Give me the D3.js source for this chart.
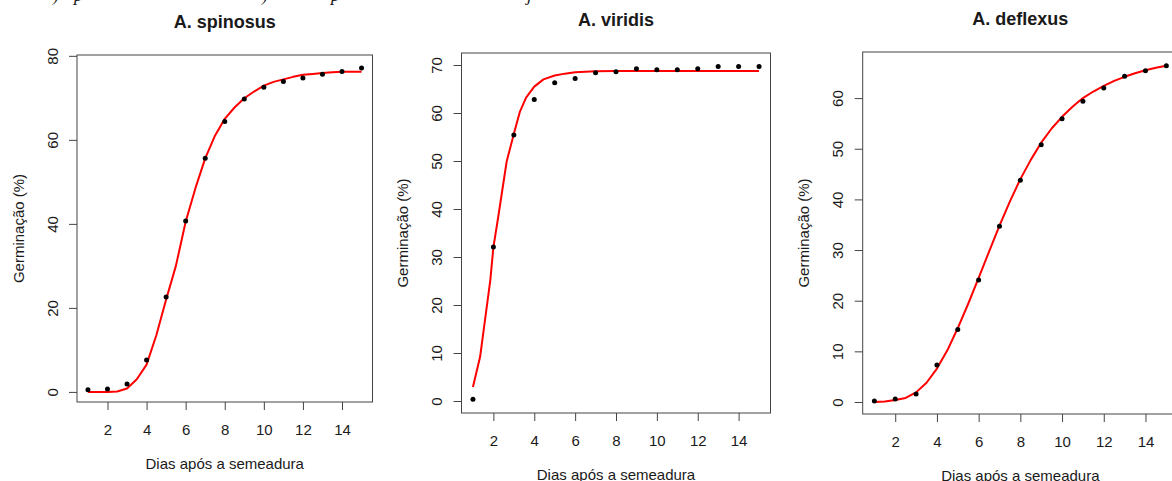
<!DOCTYPE html>
<html><head><meta charset="utf-8">
<script src="https://cdn.jsdelivr.net/npm/d3@7"></script>
<style>html,body{margin:0;padding:0;background:#fff;overflow:hidden}</style>
</head><body><svg id="c" width="1172" height="481"></svg>
<script>
// ---------- data ----------
const days = [1,2,3,4,5,6,7,8,9,10,11,12,13,14,15];
const xTicks = [2,4,6,8,10,12,14];

const spinosusObs = [0.5,0.7,1.9,7.6,22.6,40.7,55.6,64.4,69.7,72.5,73.9,74.7,75.6,76.3,77.1];
const spinosusCurveX = [1,1.5,2,2.5,3,3.5,4,4.5,5,5.5,6,6.5,7,7.5,8,8.5,9,9.5,10,10.5,11,11.5,12,12.5,13,13.5,14,14.5,15];
const spinosusCurveY = [0,0,0,0.1,0.8,3,6.5,13.5,22,30,40.5,48.5,55.6,61,65,67.7,69.9,71.5,72.9,73.8,74.4,75,75.5,75.7,75.9,76.1,76.2,76.2,76.2];
const spinosusTicks = [0,20,40,60,80];

const viridisObs = [0.35,32.1,55.4,62.8,66.3,67.2,68.4,68.6,69.2,69.0,69.0,69.2,69.7,69.7,69.7];
const viridisCurveX = [1,1.35,1.85,2,2.25,2.65,3,3.3,3.6,4,4.45,5,5.5,6,7,8,9,10,11,12,13,14,15];
const viridisCurveY = [2.9,9.2,25.2,32,38.7,49.9,55.6,60.3,63.2,65.5,67.0,67.8,68.2,68.5,68.7,68.75,68.75,68.75,68.75,68.75,68.75,68.75,68.75];
const viridisTicks = [0,10,20,30,40,50,60,70];

const deflexusObs = [0.2,0.6,1.6,7.3,14.3,24.1,34.7,43.8,50.8,55.9,59.4,62.0,64.3,65.4,66.4];
const deflexusCurveX = [1,1.5,2,2.5,3,3.5,4,4.5,5,5.5,6,6.5,7,7.5,8,8.5,9,9.5,10,10.5,11,11.5,12,12.5,13,13.5,14,14.5,15];
const deflexusCurveY = [0,0.1,0.4,0.8,1.9,3.8,6.6,10.2,14.6,19.4,24.5,29.7,34.8,39.6,44,47.8,51.2,54,56.3,58.3,60,61.3,62.4,63.4,64.2,64.9,65.5,66,66.4];
const deflexusTicks = [0,10,20,30,40,50,60];

const titles = ["A. spinosus","A. viridis","A. deflexus"];
const xLabel = "Dias após a semeadura";
const yLabel = "Germinação (%)";

// ---------- layout ----------
const panels = [
  {title:titles[0], obs:spinosusObs, cx:spinosusCurveX, cy:spinosusCurveY, yTicks:spinosusTicks,
   box:{l:77,r:372.5,t:55,b:402}, yDom:[-2.4,80.2]},
  {title:titles[1], obs:viridisObs, cx:viridisCurveX, cy:viridisCurveY, yTicks:viridisTicks,
   box:{l:461.5,r:770.5,t:53,b:413}, yDom:[-2.5,72.5]},
  {title:titles[2], obs:deflexusObs, cx:deflexusCurveX, cy:deflexusCurveY, yTicks:deflexusTicks,
   box:{l:862.7,r:1178,t:52,b:414}, yDom:[-2.37,69.1]}
];

const svg = d3.select("#c");
const FONT = "'Liberation Sans', Arial, Helvetica, sans-serif";
const TXT = "#1a1a1a";

// cut-off text fragments at the very top of the image
const frags = [[53,")"],[74,"p"],[262,")"],[331,"p"],[527,"j"]];
svg.selectAll("text.frag").data(frags).enter().append("text")
  .attr("class","frag").attr("x",d=>d[0]).attr("y",1)
  .attr("font-family","'Liberation Serif', serif").attr("font-style","italic")
  .attr("font-size",18).attr("fill",TXT).text(d=>d[1]);

panels.forEach(p => {
  const b = p.box;
  const x = d3.scaleLinear().domain([0.44,15.56]).range([b.l,b.r]);
  const y = d3.scaleLinear().domain(p.yDom).range([b.b,b.t]);
  const g = svg.append("g");

  // box
  g.append("rect").attr("x",b.l).attr("y",b.t).attr("width",b.r-b.l).attr("height",b.b-b.t)
    .attr("fill","none").attr("stroke","#444").attr("stroke-width",1);

  // x axis
  const xa = d3.axisBottom(x).tickValues(xTicks).tickSize(8).tickPadding(8).tickFormat(d3.format("d"));
  const gx = g.append("g").attr("transform",`translate(0,${b.b})`).call(xa);
  gx.select(".domain").remove();
  gx.selectAll(".tick line").attr("stroke","#444");
  gx.selectAll(".tick text").attr("font-family",FONT).attr("font-size",15).attr("fill",TXT)
    .attr("dy",null).attr("y",27).attr("dominant-baseline","central");

  // y axis (labels rotated, parallel to axis as in R)
  const ya = d3.axisLeft(y).tickValues(p.yTicks).tickSize(8).tickFormat(d3.format("d"));
  const gy = g.append("g").attr("transform",`translate(${b.l},0)`).call(ya);
  gy.select(".domain").remove();
  gy.selectAll(".tick line").attr("stroke","#444");
  gy.selectAll(".tick text").attr("font-family",FONT).attr("font-size",15).attr("fill",TXT)
    .attr("x",null).attr("dy",null).attr("text-anchor","middle").attr("dominant-baseline","central")
    .attr("transform","translate(-25,0) rotate(-90)");

  // titles
  const cxm = (b.l+b.r)/2;
  g.append("text").attr("x",cxm).attr("y",b.t-33).attr("text-anchor","middle")
    .attr("dominant-baseline","central").attr("font-family",FONT).attr("font-weight","bold")
    .attr("font-size",18).attr("fill",TXT).text(p.title);
  g.append("text").attr("x",cxm).attr("y",b.b+61).attr("text-anchor","middle")
    .attr("dominant-baseline","central").attr("font-family",FONT)
    .attr("font-size",15).attr("fill",TXT).text(xLabel);
  g.append("text").attr("transform",`translate(${b.l-59},${(b.t+b.b)/2}) rotate(-90)`)
    .attr("text-anchor","middle").attr("dominant-baseline","central").attr("font-family",FONT)
    .attr("font-size",15).attr("fill",TXT).text(yLabel);

  // fitted curve
  const curve = p.cx.map((v,i)=>[v,p.cy[i]]);
  g.append("path").datum(curve)
    .attr("d", d3.line().x(d=>x(d[0])).y(d=>y(d[1])).curve(d3.curveLinear))
    .attr("fill","none").attr("stroke","#ff0000").attr("stroke-width",2).attr("stroke-linejoin","round");

  // observed points
  g.selectAll("circle").data(days).enter().append("circle")
    .attr("cx",d=>x(d)).attr("cy",(d,i)=>y(p.obs[i])).attr("r",2.5).attr("fill","#000");
});
</script>
</body></html>
